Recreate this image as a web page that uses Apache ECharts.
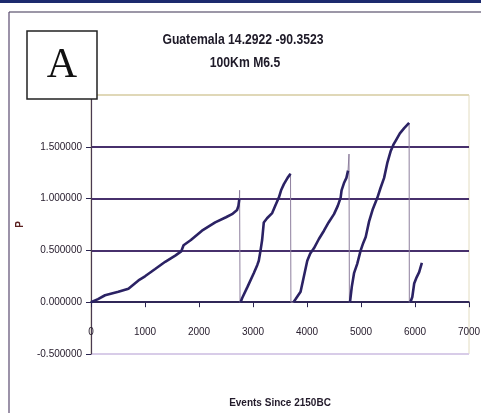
<!DOCTYPE html>
<html>
<head>
<meta charset="utf-8">
<script src="https://cdn.jsdelivr.net/npm/echarts@6/dist/echarts.min.js"></script>
<style>
  html, body { margin: 0; padding: 0; background: #ffffff; }
  #chart { width: 481px; height: 413px; }
</style>
</head>
<body>
<div id="chart"></div>
<script>
// Cumulative probability P per cycle, against event count since 2150BC
const cycle1 = [[0,0],[130,0.03],[260,0.067],[507,0.10],[693,0.13],[879,0.21],[1000,0.25],[1188,0.32],[1374,0.39],[1560,0.45],[1670,0.49],[1714,0.55],[1850,0.60],[2055,0.69],[2300,0.77],[2500,0.82],[2612,0.85],[2705,0.89],[2730,0.93],[2748,1.0]];
const cycle2 = [[2770,0.0],[2800,0.04],[2900,0.15],[3014,0.28],[3080,0.36],[3107,0.40],[3140,0.50],[3169,0.60],[3200,0.77],[3260,0.81],[3355,0.86],[3420,0.94],[3479,1.01],[3520,1.08],[3572,1.14],[3640,1.20],[3695,1.24]];
const cycle3 = [[3750,0.0],[3790,0.03],[3881,0.10],[3930,0.22],[4005,0.40],[4060,0.47],[4128,0.52],[4220,0.61],[4314,0.69],[4400,0.77],[4500,0.85],[4570,0.93],[4623,1.01],[4640,1.08],[4685,1.15],[4730,1.20],[4760,1.27]];
const cycle4 = [[4796,0.0],[4830,0.15],[4871,0.28],[4930,0.37],[4994,0.50],[5040,0.57],[5087,0.63],[5150,0.78],[5220,0.90],[5304,1.01],[5360,1.10],[5428,1.20],[5490,1.35],[5551,1.46],[5600,1.52],[5644,1.56],[5720,1.63],[5800,1.68],[5891,1.73]];
const cycle5 = [[5915,0.0],[5950,0.05],[5985,0.18],[6030,0.24],[6077,0.29],[6127,0.38]];
// Reset events between cycles: [event, peak P, event where P returns to 0]
const resets = [[2752,1.08,2760],[3700,1.24,3702],[4778,1.43,4785],[5893,1.73,5895]];

const xTicks = { min: 0, max: 7000, interval: 1000 };
const yTicks = { min: -0.5, max: 2.0, interval: 0.5 };

const cycles = [cycle1, cycle2, cycle3, cycle4, cycle5];

// Thick trace: each cycle, broken between cycles
const thick = [];
cycles.forEach((c, i) => {
  c.forEach(p => thick.push(p));
  if (i < cycles.length - 1) thick.push([null, null]);
});

// Thin connecting trace: whole sequence including the reset spikes
const thin = [];
cycles.forEach((c, i) => {
  c.forEach(p => thin.push(p));
  if (i < resets.length) {
    const r = resets[i];
    thin.push([r[0], r[1]]);
    thin.push([r[2], 0]);
  }
});

const sans = "'Liberation Sans', Arial, sans-serif";
const gridCol = '#47306c';

const chart = echarts.init(document.getElementById('chart'));
chart.setOption({
  animation: false,
  backgroundColor: '#ffffff',
  grid: {
    left: 91, right: 12, top: 95, bottom: 59,
    outerBoundsMode: 'none',
    containLabel: false,
    show: true, borderColor: '#e2dcc0', borderWidth: 1, backgroundColor: 'transparent'
  },
  xAxis: {
    type: 'value',
    min: xTicks.min, max: xTicks.max, interval: xTicks.interval,
    axisLine: { show: true, onZero: true, lineStyle: { color: '#2a2450', width: 1.5 } },
    axisTick: { show: true, length: 5, lineStyle: { color: '#2a2450' } },
    // labels sit just under the zero line, above the bottom of the grid
    axisLabel: { margin: -27, fontFamily: sans, fontSize: 10, color: '#2a2030',
      formatter: v => String(v) },
    splitLine: { show: false },
    name: 'Events Since 2150BC',
    nameLocation: 'middle',
    nameGap: 44,
    nameTextStyle: { fontFamily: sans, fontSize: 10, fontWeight: 'bold', color: '#221a2a' }
  },
  yAxis: {
    type: 'value',
    min: yTicks.min, max: yTicks.max, interval: yTicks.interval,
    axisLine: { show: true, lineStyle: { color: '#4a3a50', width: 1.2 } },
    axisTick: { show: true, length: 5, lineStyle: { color: '#2a2450' } },
    axisLabel: { margin: 9, fontFamily: sans, fontSize: 10, color: '#2a2030',
      formatter: v => v.toFixed(6) },
    splitLine: { show: true, lineStyle: { color: ['#d8cce8', gridCol, gridCol, gridCol, gridCol, '#e0d8b8'], width: 2 } },
    name: 'P',
    nameLocation: 'middle',
    nameGap: 66,
    nameRotate: 90,
    nameTextStyle: { fontFamily: sans, fontSize: 10, fontWeight: 'bold', color: '#5a2020' }
  },
  series: [
    {
      type: 'line',
      data: thin,
      symbol: 'none',
      lineStyle: { color: '#8e7f9e', width: 1 },
      z: 2
    },
    {
      type: 'line',
      data: thick,
      symbol: 'none',
      connectNulls: false,
      lineStyle: { color: '#2b2264', width: 2.6 },
      z: 3
    }
  ],
  graphic: [
    { type: 'rect', shape: { x: 0, y: 0, width: 481, height: 3 }, style: { fill: '#1c2a6e' }, z: 10 },
    { type: 'line', shape: { x1: 9, y1: 12, x2: 481, y2: 12 }, style: { stroke: '#3a3050', lineWidth: 1.2 }, z: 10 },
    { type: 'line', shape: { x1: 9, y1: 12, x2: 9, y2: 413 }, style: { stroke: '#5a4a70', lineWidth: 1.2 }, z: 10 },
    { type: 'rect', shape: { x: 27, y: 31, width: 70, height: 68 }, style: { fill: '#ffffff', stroke: '#222', lineWidth: 1.5 }, z: 20 },
    { type: 'text', x: 62, y: 66, style: { text: 'A', font: "42px 'Liberation Serif', 'Times New Roman', serif", fill: '#111', textAlign: 'center', textVerticalAlign: 'middle' }, z: 21 },
    { type: 'text', x: 243, y: 40, scaleX: 0.87, style: { text: 'Guatemala 14.2922 -90.3523', font: "bold 14px " + sans, fill: '#1e1a28', textAlign: 'center', textVerticalAlign: 'middle' }, z: 20 },
    { type: 'text', x: 245, y: 63, scaleX: 0.87, style: { text: '100Km M6.5', font: "bold 14px " + sans, fill: '#1e1a28', textAlign: 'center', textVerticalAlign: 'middle' }, z: 20 }
  ]
});
</script>
</body>
</html>
